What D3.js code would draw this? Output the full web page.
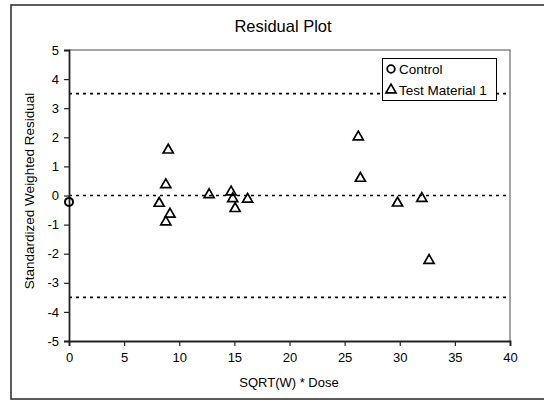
<!DOCTYPE html>
<html><head><meta charset="utf-8">
<script src="https://cdn.jsdelivr.net/npm/d3@7"></script>
<style>body{margin:0;background:#fff}svg{display:block}text{font-family:"Liberation Sans",Arial,sans-serif;fill:#000}</style>
</head><body>
<svg id="c" width="544" height="401"></svg>
<script>
const controlX = [0];
const controlY = [-0.22];
const testX = [8.18, 8.78, 9.0, 8.78, 9.16, 12.71, 14.7, 14.85, 15.07, 16.2, 26.24, 26.43, 29.8, 32.0, 32.66];
const testY = [-0.27, 0.37, 1.56, -0.91, -0.64, 0.03, 0.12, -0.11, -0.45, -0.13, 2.01, 0.59, -0.26, -0.10, -2.23];
const refLines = [3.5, 0, -3.5];
const xTicks = [0, 5, 10, 15, 20, 25, 30, 35, 40];
const yTicks = [5, 4, 3, 2, 1, 0, -1, -2, -3, -4, -5];
const seriesNames = ["Control", "Test Material 1"];

const svg = d3.select("#c");
const L = 69, R = 510, T = 50, B = 341;
const x = d3.scaleLinear().domain([0, 40]).range([L, R]);
const y = d3.scaleLinear().domain([-5, 5]).range([B, T]);

// outer frame
svg.append("rect").attr("x", 11).attr("y", 5).attr("width", 545).attr("height", 394)
  .attr("fill", "none").attr("stroke", "#333").attr("stroke-width", 1.6);

// plot border (top/right gray)
svg.append("path").attr("d", `M${L},${T}H${R}V${B}`).attr("fill", "none")
  .attr("stroke", "#888").attr("stroke-width", 1.5);

// reference dashed lines
svg.selectAll("line.ref").data(refLines).join("line").attr("class", "ref")
  .attr("x1", L).attr("x2", R).attr("y1", d => y(d)).attr("y2", d => y(d))
  .attr("stroke", "#000").attr("stroke-width", 1.7).attr("stroke-dasharray", "3,4");

// axes
const xAxis = svg.append("g").attr("transform", `translate(0,${B})`)
  .call(d3.axisBottom(x).tickValues(xTicks).tickSize(5).tickPadding(7).tickFormat(d3.format("d")));
const yAxis = svg.append("g").attr("transform", `translate(${L},0)`)
  .call(d3.axisLeft(y).tickValues(yTicks).tickSize(5).tickPadding(5).tickFormat(d => d < 0 ? "-" + Math.abs(d) : String(d)));
[xAxis, yAxis].forEach(g => {
  g.select(".domain").attr("stroke", "#222").attr("stroke-width", 1.8);
  g.selectAll(".tick line").attr("stroke", "#222").attr("stroke-width", 1.2);
  g.selectAll(".tick text").attr("font-size", 13).attr("font-family", "Liberation Sans, Arial, sans-serif").attr("fill", "#000");
});

// titles
svg.append("text").attr("x", 283).attr("y", 32).attr("text-anchor", "middle").attr("font-size", 16.5).text("Residual Plot");
svg.append("text").attr("x", 289).attr("y", 387).attr("text-anchor", "middle").attr("font-size", 13).text("SQRT(W) * Dose");
svg.append("text").attr("transform", "translate(34,191) rotate(-90)").attr("text-anchor", "middle").attr("font-size", 13.5).text("Standardized Weighted Residual");

const tri = d3.symbol().type(d3.symbolTriangle).size(44);

// control points
svg.selectAll("circle.ctrl").data(controlX.map((v, i) => [v, controlY[i]])).join("circle")
  .attr("class", "ctrl").attr("cx", d => x(d[0])).attr("cy", d => y(d[1])).attr("r", 4)
  .attr("fill", "none").attr("stroke", "#000").attr("stroke-width", 2);

// test points
svg.selectAll("path.tm").data(testX.map((v, i) => [v, testY[i]])).join("path")
  .attr("class", "tm").attr("d", tri).attr("transform", d => `translate(${x(d[0])},${y(d[1])})`)
  .attr("fill", "none").attr("stroke", "#000").attr("stroke-width", 1.7);

// legend
const lg = svg.append("g");
lg.append("rect").attr("x", 382.5).attr("y", 58.5).attr("width", 114).attr("height", 42)
  .attr("fill", "#fff").attr("stroke", "#000").attr("stroke-width", 1);
lg.append("circle").attr("cx", 391).attr("cy", 69).attr("r", 3.8).attr("fill", "none").attr("stroke", "#000").attr("stroke-width", 1.8);
lg.append("path").attr("d", tri).attr("transform", "translate(391,90)").attr("fill", "none").attr("stroke", "#000").attr("stroke-width", 1.7);
lg.selectAll("text").data(seriesNames).join("text").attr("x", 399).attr("y", (d, i) => 73.5 + i * 21)
  .attr("font-size", 13.5).text(d => d);
</script>
</body></html>
